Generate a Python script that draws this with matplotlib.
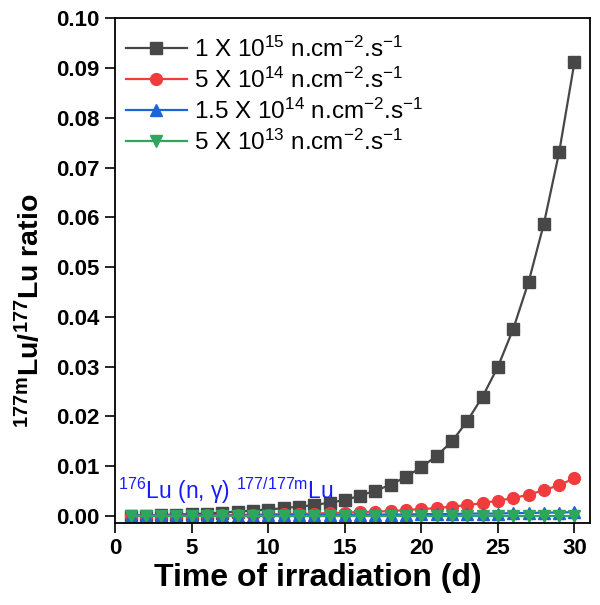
import numpy as np
import matplotlib.pyplot as plt

plt.rcParams['font.family'] = ['Liberation Sans', 'DejaVu Sans']
plt.rcParams['mathtext.fontset'] = 'custom'
plt.rcParams['mathtext.rm'] = 'Liberation Sans'
plt.rcParams['mathtext.it'] = 'Liberation Sans:italic'
plt.rcParams['mathtext.bf'] = 'Liberation Sans:bold'

days = np.arange(1, 31)

# 1 X 10^15
flux_1e15 = [0.0001, 0.0001, 0.0002, 0.0003, 0.0004, 0.0005, 0.0007, 0.0009, 0.0011, 0.0013,
             0.0016, 0.0019, 0.0022, 0.0027, 0.0032, 0.0041, 0.0051, 0.0063, 0.0079, 0.0098,
             0.0121, 0.0150, 0.0191, 0.0240, 0.0300, 0.0376, 0.0470, 0.0587, 0.0731, 0.0912]
# 5 X 10^14
flux_5e14 = [0.0000, 0.0001, 0.0001, 0.0001, 0.0001, 0.0002, 0.0002, 0.0002, 0.0003, 0.0003,
             0.0004, 0.0004, 0.0005, 0.0006, 0.0007, 0.0008, 0.0009, 0.0010, 0.0012, 0.0014,
             0.0016, 0.0019, 0.0022, 0.0026, 0.0031, 0.0036, 0.0043, 0.0052, 0.0062, 0.0076]
# 1.5 X 10^14
flux_15e13 = [0.0001, 0.0001, 0.0001, 0.0001, 0.0001, 0.0001, 0.0001, 0.0001, 0.0001, 0.0002,
              0.0002, 0.0002, 0.0002, 0.0002, 0.0002, 0.0003, 0.0003, 0.0003, 0.0003, 0.0004,
              0.0004, 0.0004, 0.0005, 0.0005, 0.0005, 0.0006, 0.0006, 0.0007, 0.0007, 0.0008]
# 5 X 10^13
flux_5e13 = [0.0000, 0.0000, 0.0000, 0.0000, 0.0000, 0.0000, 0.0000, 0.0000, 0.0000, 0.0000,
             0.0000, 0.0000, 0.0000, 0.0000, 0.0000, 0.0000, 0.0000, 0.0000, 0.0000, 0.0000,
             0.0000, 0.0000, 0.0000, 0.0000, 0.0000, 0.0000, 0.0000, 0.0000, 0.0000, 0.0000]

labels = [r'1 X 10$^{15}$ n.cm$^{-2}$.s$^{-1}$',
          r'5 X 10$^{14}$ n.cm$^{-2}$.s$^{-1}$',
          r'1.5 X 10$^{14}$ n.cm$^{-2}$.s$^{-1}$',
          r'5 X 10$^{13}$ n.cm$^{-2}$.s$^{-1}$']

fig = plt.figure(figsize=(6, 6.05), dpi=100)
ax = fig.add_axes([0.192, 0.1355, 0.791, 0.8345])

ax.plot(days, flux_1e15, color='#474747', marker='s', ms=8, lw=1.6, label=labels[0])
ax.plot(days, flux_5e14, color='#f03c3c', marker='o', ms=8.5, lw=1.6, label=labels[1])
ax.plot(days, flux_15e13, color='#1f63d8', marker='^', ms=8.5, lw=1.6, label=labels[2])
ax.plot(days, flux_5e13, color='#2ea65e', marker='v', ms=8.5, lw=1.6, label=labels[3])

ax.text(0.2, 0.0035, r'$^{\mathrm{176}}$Lu (n, γ) $^{\mathrm{177/177m}}$Lu', color='#1a1aff', fontsize=16.5)

ax.set_xlim(0, 31)
ax.set_ylim(-0.0014, 0.1)
ax.set_xticks(range(0, 31, 5))
ax.set_yticks(np.arange(0, 0.101, 0.01))
ax.yaxis.set_major_formatter(plt.FormatStrFormatter('%.2f'))
ax.tick_params(direction='out', length=7, width=1.2, labelsize=16, pad=4)
for lab in ax.get_xticklabels() + ax.get_yticklabels():
    lab.set_fontweight('bold')
for s in ax.spines.values():
    s.set_linewidth(1.3)

ax.set_xlabel('Time of irradiation (d)', fontsize=23, fontweight='bold')
ax.xaxis.set_label_coords(0.427, -0.08)
ax.set_ylabel(r'$^{\mathbf{177m}}$Lu/$^{\mathbf{177}}$Lu ratio', fontsize=20.5, fontweight='bold')
ax.yaxis.set_label_coords(-0.147, 0.42)

ax.legend(loc='upper left', bbox_to_anchor=(-0.003, 0.988), frameon=False, fontsize=17.5,
          handlelength=2.5, handletextpad=0.3, labelspacing=0.24, borderaxespad=0.1,
          borderpad=0.4)

fig.savefig('out.png')
